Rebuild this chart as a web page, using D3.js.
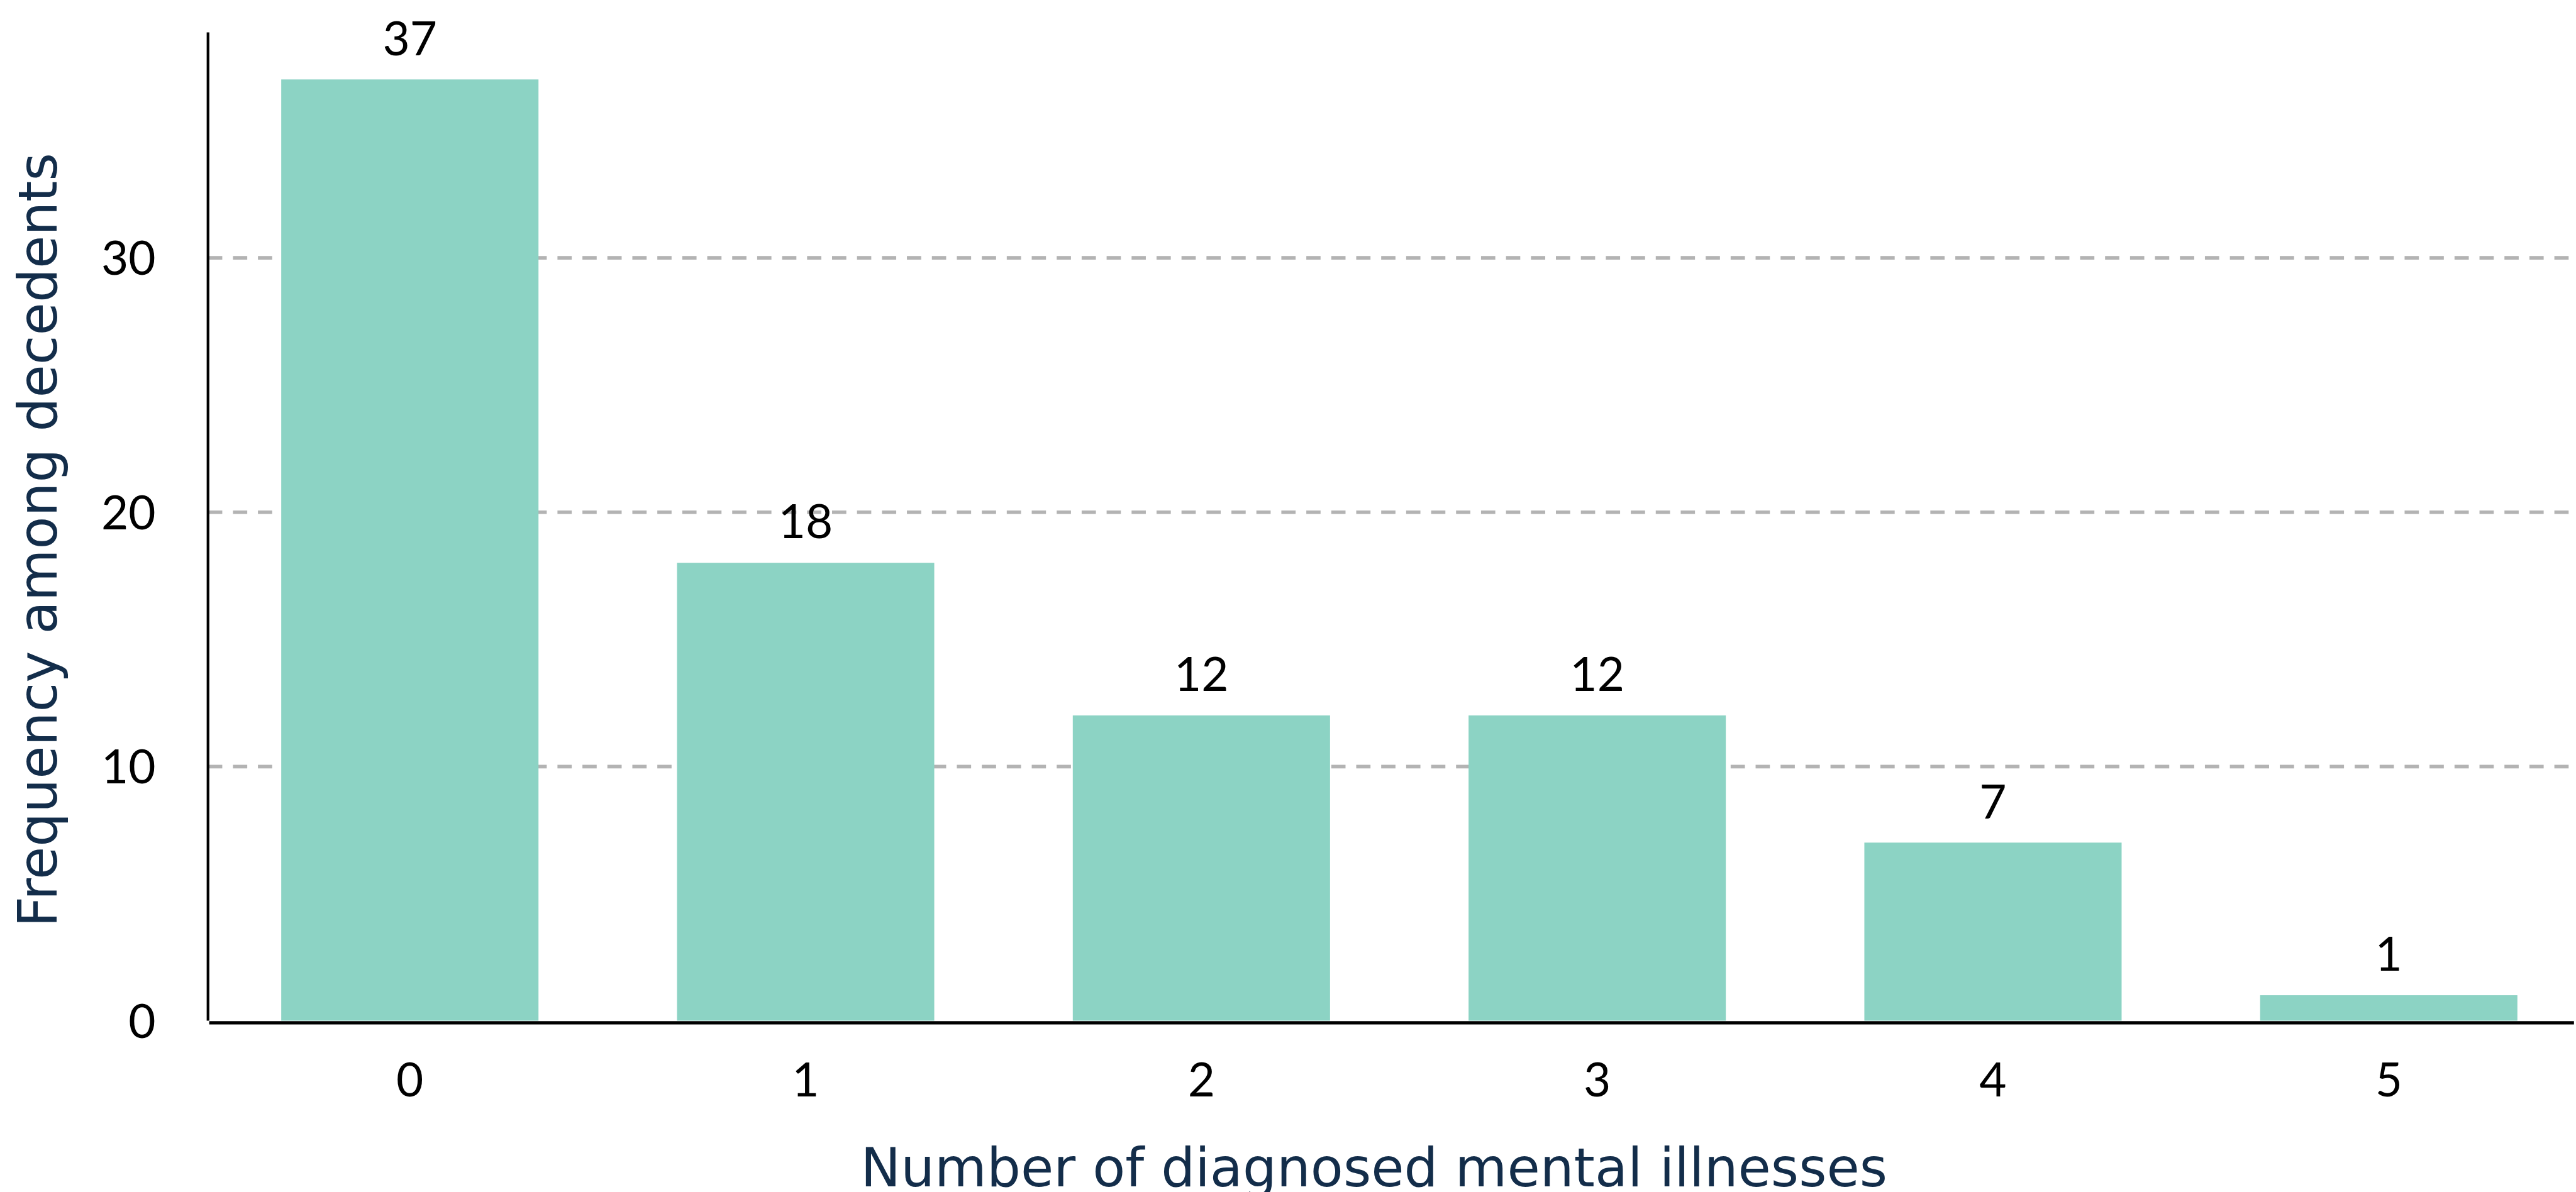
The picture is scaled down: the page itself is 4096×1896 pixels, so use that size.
<!DOCTYPE html>
<html>
<head>
<meta charset="utf-8">
<script src="https://cdn.jsdelivr.net/npm/d3@7"></script>
<style>
  html, body { margin: 0; padding: 0; background: #fff; }
  svg { display: block; }
</style>
</head>
<body>
<div id="chart"></div>
<script>
(function () {
    // data
    var categories = ["0", "1", "2", "3", "4", "5"];
    var frequencies = [37, 18, 12, 12, 7, 1];
    var yTicks = [0, 10, 20, 30];
    var yMax = 38.85;
    var xTitle = "Number of diagnosed mental illnesses";
    var yTitle = "Frequency among decedents";

    var width = 4096,
        height = 1896,
        k = 0.945; // reference drawn at 4331x2005

    var rows = categories.map(function (c, i) {
        return { cat: c, value: frequencies[i] };
    });

    var svg = d3.select("#chart")
        .append("svg")
        .attr("width", width)
        .attr("height", height);

    // everything below is laid out in reference pixels, then scaled
    var g = svg.append("g").attr("transform", "scale(" + k + ")");

    var left = 350, right = 4331, top = 54.5, bottom = 1718;

    var x = d3.scaleBand()
        .domain(categories)
        .range([left, right])
        .paddingInner(0.35)
        .paddingOuter(0.164)
        .align(0.564);

    var y = d3.scaleLinear()
        .domain([0, yMax])
        .range([bottom, top]);

    var numFont = "Lato, sans-serif";
    var titleFont = "'DejaVu Sans', sans-serif";
    var numSize = 79;

    // y axis: dashed grid + labels
    var yAxis = g.append("g")
        .attr("transform", "translate(" + left + ",0)")
        .call(d3.axisLeft(y)
            .tickValues(yTicks)
            .tickSize(-(right - left))
            .tickPadding(88)
            .tickFormat(d3.format("d")));

    yAxis.select(".domain").remove();
    yAxis.selectAll(".tick line")
        .attr("stroke", "#b3b3b3")
        .attr("stroke-width", 6)
        .attr("stroke-dasharray", "24,18")
        .attr("opacity", function (d) { return d === 0 ? 0 : 1; });
    yAxis.selectAll(".tick text")
        .attr("fill", "#000")
        .attr("font-family", numFont)
        .attr("font-size", numSize)
        .attr("dy", "0.36em");

    // bars
    g.selectAll(".bar")
        .data(rows)
        .enter().append("rect")
        .attr("class", "bar")
        .attr("x", function (d) { return x(d.cat); })
        .attr("y", function (d) { return y(d.value); })
        .attr("width", x.bandwidth())
        .attr("height", function (d) { return y(0) - y(d.value); })
        .attr("fill", "#8cd3c4");

    // value labels
    g.selectAll(".value")
        .data(rows)
        .enter().append("text")
        .attr("class", "value")
        .attr("x", function (d) { return x(d.cat) + x.bandwidth() / 2; })
        .attr("y", function (d) { return y(d.value) - 41; })
        .attr("text-anchor", "middle")
        .attr("font-family", numFont)
        .attr("font-size", numSize)
        .attr("fill", "#000")
        .text(function (d) { return d.value; });

    // x axis
    var xAxis = g.append("g")
        .attr("transform", "translate(0," + bottom + ")")
        .call(d3.axisBottom(x).tickSize(0));

    xAxis.select(".domain").remove();
    xAxis.selectAll(".tick text")
        .attr("fill", "#000")
        .attr("font-family", numFont)
        .attr("font-size", numSize)
        .attr("dy", null)
        .attr("y", 127);

    // axis lines
    g.append("line")
        .attr("x1", left).attr("x2", left)
        .attr("y1", top).attr("y2", bottom)
        .attr("stroke", "#000")
        .attr("stroke-width", 4.5);

    g.append("line")
        .attr("x1", left + 2).attr("x2", right)
        .attr("y1", bottom + 3.5).attr("y2", bottom + 3.5)
        .attr("stroke", "#000")
        .attr("stroke-width", 5.5);

    // titles
    g.append("text")
        .attr("x", 2312)
        .attr("y", 1997)
        .attr("text-anchor", "middle")
        .attr("font-family", titleFont)
        .attr("font-size", 90)
        .attr("fill", "#132d4a")
        .text(xTitle);

    g.append("text")
        .attr("transform", "translate(95,909) rotate(-90)")
        .attr("text-anchor", "middle")
        .attr("font-family", titleFont)
        .attr("font-size", 90)
        .attr("fill", "#132d4a")
        .text(yTitle);
})();
</script>
</body>
</html>
